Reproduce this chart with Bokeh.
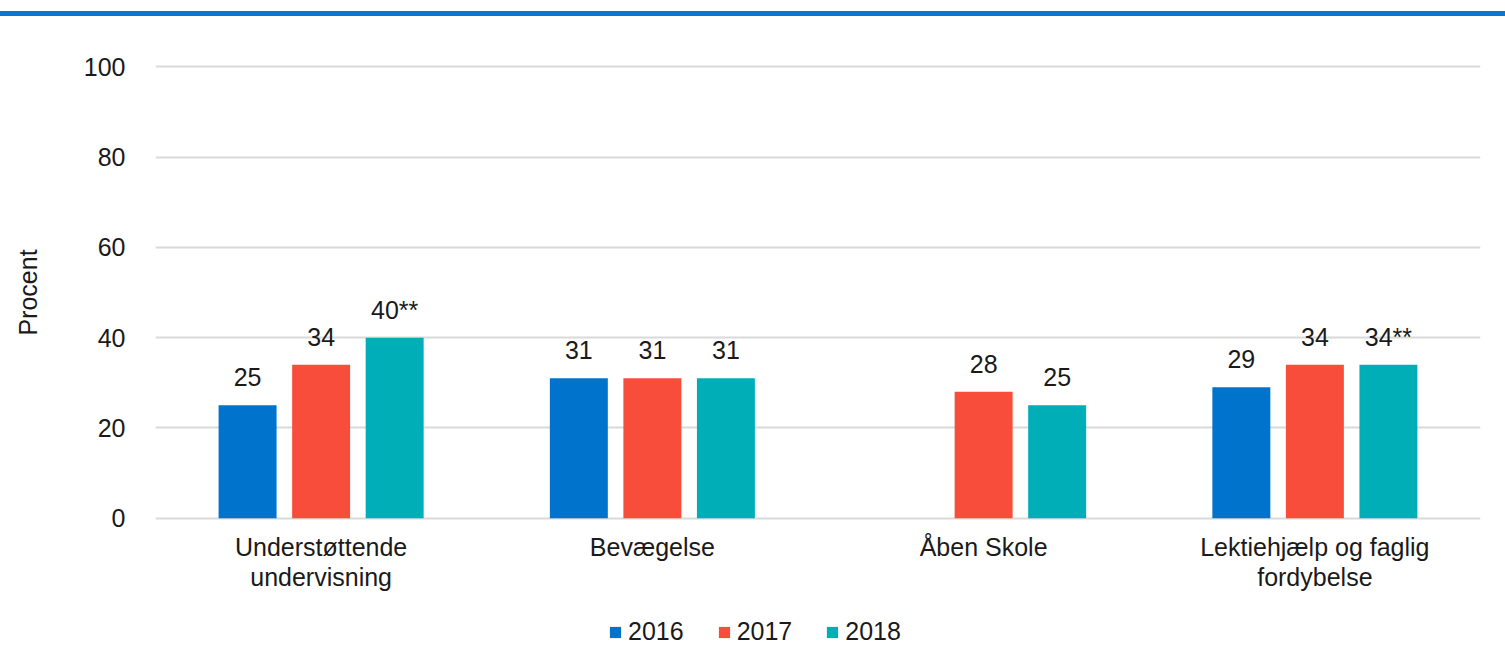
from bokeh.plotting import figure
from bokeh.models import (ColumnDataSource, Legend, LegendItem, Div, Spacer,
                          FactorRange, Range1d, FixedTicker, CategoricalAxis)
from bokeh.layouts import column
from bokeh.transform import dodge
from bokeh.core.properties import value
from bokeh.embed import file_html
from bokeh.resources import INLINE

# ---- data ----
categories = ["Understøttende undervisning", "Bevægelse", "Åben Skole",
              "Lektiehjælp og faglig fordybelse"]
tick_line1 = ["Understøttende", "Bevægelse", "Åben Skole", "Lektiehjælp og faglig"]
tick_line2 = ["undervisning", "", "", "fordybelse"]
years = ["2016", "2017", "2018"]
v2016 = [25, 31, None, 29]
v2017 = [34, 31, 28, 34]
v2018 = [40, 31, 25, 34]
sig2016 = ["", "", "", ""]
sig2017 = ["", "", "", ""]
sig2018 = ["**", "", "", "**"]
y_ticks = [0, 20, 40, 60, 80, 100]

colors = ["#0074CC", "#F94D3C", "#00AEB8"]
FONT = "Liberation Sans"
TXT = "#1a1a1a"

p = figure(x_range=FactorRange(factors=categories), y_range=Range1d(-0.5, 100.5),
           width=1505, height=596, output_backend="svg", toolbar_location=None,
           min_border_left=155, min_border_right=25, min_border_top=48,
           min_border_bottom=92)
p.outline_line_color = None
p.background_fill_color = "white"
p.border_fill_color = "white"

series = [v2016, v2017, v2018]
sigs = [sig2016, sig2017, sig2018]
offsets = [-0.222, 0.0, 0.222]
for yr, vals, sg, off, col in zip(years, series, sigs, offsets, colors):
    cats = [c for c, v in zip(categories, vals) if v is not None]
    vv = [v for v in vals if v is not None]
    ss = [s for s, v in zip(sg, vals) if v is not None]
    src = ColumnDataSource(dict(cat=cats, val=vv,
                                lab=[f"{v}{s}" for v, s in zip(vv, ss)]))
    p.vbar(x=dodge("cat", off, range=p.x_range), top="val", width=0.175,
           source=src, fill_color=col, line_color=None)
    p.text(x=dodge("cat", off, range=p.x_range), y="val", text="lab", source=src,
           y_offset=-28, text_align="center",
           text_baseline="alphabetic", text_font=value(FONT),
           text_font_size="25px", text_color=TXT)

# x axes: two stacked axes (extra ranges) for two-line category labels
line2_factors = [t if t else " " * (i + 1) for i, t in enumerate(tick_line2)]
p.extra_x_ranges = {"l1": FactorRange(factors=tick_line1),
                    "l2": FactorRange(factors=line2_factors)}
p.xaxis[0].visible = False

def style_xaxis(ax, standoff):
    ax.axis_line_color = None
    ax.major_tick_line_color = None
    ax.minor_tick_line_color = None
    ax.major_label_standoff = standoff
    ax.major_label_text_font = FONT
    ax.major_label_text_font_size = "25px"
    ax.major_label_text_color = TXT

ax1 = CategoricalAxis(x_range_name="l1")
style_xaxis(ax1, 6)
p.add_layout(ax1, "below")
ax2 = CategoricalAxis(x_range_name="l2")
style_xaxis(ax2, -7)
p.add_layout(ax2, "below")

p.yaxis.ticker = FixedTicker(ticks=y_ticks)
p.yaxis.axis_line_color = None
p.yaxis.major_tick_line_color = None
p.yaxis.minor_tick_line_color = None
p.yaxis.major_label_standoff = 24
p.yaxis.major_label_text_font = FONT
p.yaxis.major_label_text_font_size = "25px"
p.yaxis.major_label_text_color = TXT
p.yaxis.axis_label = "Procent"
p.yaxis.axis_label_text_font = FONT
p.yaxis.axis_label_text_font_size = "25px"
p.yaxis.axis_label_text_font_style = "normal"
p.yaxis.axis_label_text_color = TXT
p.yaxis.axis_label_standoff = 39

p.xgrid.grid_line_color = None
p.ygrid.grid_line_color = "#D9D9D9"
p.ygrid.grid_line_width = 2

# ---- legend strip (its own small figure so it is not clipped) ----
lg = figure(width=1505, height=34, output_backend="svg", toolbar_location=None,
            x_axis_type=None, y_axis_type=None, min_border=0,
            x_range=Range1d(0, 1), y_range=Range1d(0, 1))
lg.outline_line_color = None
lg.xgrid.grid_line_color = None
lg.ygrid.grid_line_color = None
legend_items = []
for yr, col in zip(years, colors):
    # one off-screen bar per series, only so that the legend shows its colour
    r = lg.vbar(x=[-10], top=[0], width=0.1, fill_color=col, line_color=None)
    legend_items.append(LegendItem(label=yr, renderers=[r]))
legend = Legend(items=legend_items, orientation="horizontal", location=(453, 0),
                border_line_color=None, background_fill_alpha=0,
                label_text_font=FONT, label_text_font_size="25px",
                label_text_color=TXT, glyph_width=14, glyph_height=14,
                label_standoff=6, spacing=33, padding=0, margin=0)
lg.add_layout(legend, "center")

top_line = Div(text="", width=1505, height=5, margin=0,
               styles={"background-color": "#0A77CC"})
layout = column(Spacer(height=11, width=1505, margin=0), top_line, p, lg)

open("out.html", "w").write(file_html(layout, INLINE))
